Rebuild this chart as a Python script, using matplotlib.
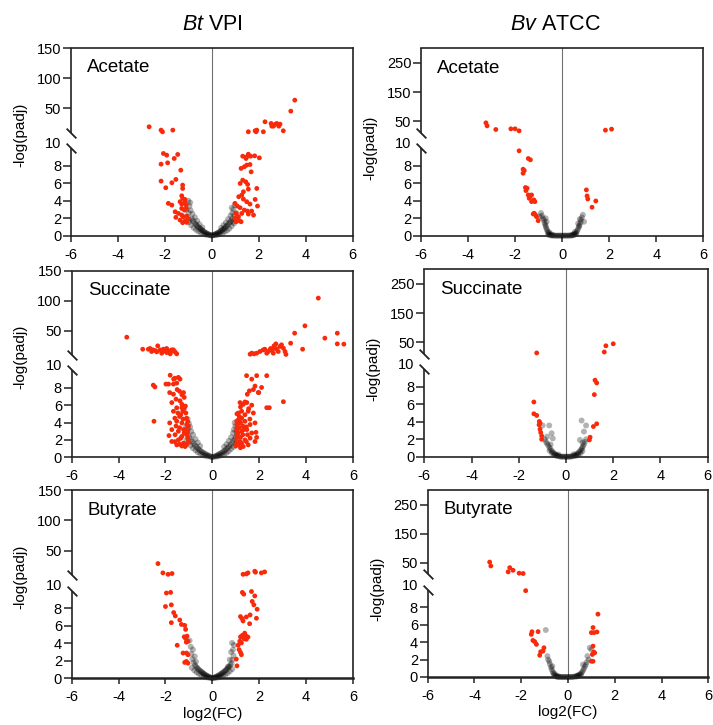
import numpy as np
import matplotlib
matplotlib.use('Agg')
import matplotlib.pyplot as plt

plt.rcParams['font.family'] = ['Liberation Sans', 'DejaVu Sans']
plt.rcParams['axes.unicode_minus'] = False
plt.rcParams['mathtext.fontset'] = 'custom'
plt.rcParams['mathtext.rm'] = 'Liberation Sans'
plt.rcParams['mathtext.it'] = 'Liberation Sans:italic'

# ---------------- data (log2FC, -log(padj)) ----------------
column_titles = [r'$\mathit{Bt}$ VPI', r'$\mathit{Bv}$ ATCC']
conditions = ['Acetate', 'Succinate', 'Butyrate']
x_ticks = [-6, -4, -2, 0, 2, 4, 6]
low_ticks = [0, 2, 4, 6, 8]
up_ticks_bt = [50, 100, 150]
up_ticks_bv = [50, 150, 250]

bt_acetate_sig = [
    (-2.67, 19.7), (-2.16, 14.2), (-2.10, 11.4), (-1.66, 14.2), (1.56, 11.5), (1.85, 13.1),
    (1.92, 14.2), (1.89, 11.5), (2.20, 11.5), (2.27, 28.0), (2.53, 25.2), (2.63, 20.8),
    (2.77, 25.2), (2.91, 24.1), (2.86, 20.8), (2.56, 20.8), (2.70, 23.6), (3.05, 13.1),
    (3.37, 45.6), (3.54, 63.8),
    (-2.06, 9.41), (-1.92, 9.22), (-1.45, 9.30), (-1.60, 8.84), (-1.88, 8.34), (-2.16, 8.19),
    (-1.32, 7.50), (-1.53, 6.44), (-1.70, 6.06), (-2.16, 6.25), (-1.96, 5.49), (-1.24, 5.79),
    (-1.24, 5.41), (-1.28, 4.57), (-1.24, 4.27), (-1.14, 4.15), (-1.85, 3.70), (-1.70, 3.50),
    (-1.35, 3.89), (-1.28, 3.62), (-1.14, 3.89), (-1.09, 3.50), (-1.28, 3.12), (-1.16, 2.93),
    (-1.09, 3.12), (-1.56, 2.74), (-1.42, 2.55), (-1.28, 2.36), (-1.21, 2.17), (-1.07, 2.25),
    (-1.53, 2.10), (-1.35, 1.79), (-1.14, 1.68), (-1.07, 1.52), (-1.02, 1.98), (-1.24, 1.49),
    (1.49, 9.03), (1.56, 9.33), (1.66, 9.10), (1.32, 9.10), (1.46, 8.84), (1.83, 9.14),
    (2.03, 8.91), (1.39, 7.89), (1.49, 8.08), (1.63, 8.15), (1.25, 7.70), (1.68, 7.31),
    (1.32, 6.36), (1.45, 6.17), (1.53, 5.87), (1.21, 5.98), (1.35, 5.03), (1.56, 5.33),
    (1.92, 5.41), (1.28, 4.65), (1.15, 4.46), (1.35, 4.19), (1.49, 3.89), (1.63, 3.62),
    (1.85, 4.15), (1.95, 3.39), (0.99, 3.70), (1.09, 3.39), (1.21, 3.20), (1.39, 2.93),
    (1.52, 2.82), (1.70, 2.82), (1.04, 2.55), (1.28, 2.55), (1.56, 2.48), (1.78, 2.36),
    (0.99, 1.98), (1.09, 1.79), (1.18, 1.71), (1.25, 1.60), (1.04, 1.60), (1.14, 2.17),
]
bt_acetate_ns = [
    (0.00, 0.02), (0.04, 0.05), (-0.04, 0.04), (0.08, 0.08), (-0.08, 0.09), (0.12, 0.12),
    (-0.12, 0.14), (0.16, 0.18), (-0.17, 0.20), (0.20, 0.22), (-0.21, 0.25), (0.24, 0.30),
    (-0.25, 0.32), (0.28, 0.35), (-0.30, 0.40), (0.33, 0.42), (-0.34, 0.48), (0.37, 0.50),
    (-0.38, 0.55), (0.41, 0.58), (-0.42, 0.64), (0.45, 0.66), (-0.46, 0.72), (0.50, 0.75),
    (-0.50, 0.82), (0.54, 0.85), (-0.55, 0.92), (0.58, 0.95), (-0.60, 1.05), (0.62, 1.08),
    (-0.64, 1.18), (0.67, 1.20), (-0.69, 1.32), (0.72, 1.35), (-0.74, 1.50), (0.77, 1.52),
    (-0.80, 1.70), (0.82, 1.70), (-0.85, 1.95), (0.87, 1.95),
    (0.15, 0.05), (-0.15, 0.06), (0.25, 0.10), (-0.26, 0.12), (0.35, 0.20), (-0.36, 0.22),
    (0.45, 0.30), (-0.47, 0.35), (0.55, 0.45), (-0.57, 0.50), (0.65, 0.60), (-0.67, 0.68),
    (0.75, 0.80), (-0.77, 0.90), (0.85, 1.10), (-0.88, 1.20), (0.95, 1.40), (-0.97, 1.55),
    (0.40, 0.90), (-0.40, 0.95), (0.50, 1.20), (-0.52, 1.30), (0.60, 1.50), (-0.62, 1.70),
    (0.70, 1.90), (-0.72, 2.10), (0.80, 2.30), (-0.82, 2.50), (0.88, 2.60), (-0.90, 2.90),
    (0.92, 3.00), (-0.95, 3.40), (0.96, 2.30), (-0.98, 2.60), (1.00, 1.90), (-1.02, 2.10),
    (0.85, 3.20), (-0.92, 3.80), (0.98, 3.50), (-1.00, 4.00), (1.05, 2.60), (-1.08, 3.00),
    (0.90, 1.60), (-0.95, 1.80),
]

bv_acetate_sig = [
    (-3.24, 44.3), (-3.19, 34.0), (-2.82, 21.4), (-2.18, 23.7), (-2.00, 23.7), (-1.83, 16.8),
    (1.84, 19.1), (2.10, 22.6),
    (-1.83, 9.73), (-1.44, 8.85), (-1.35, 8.70), (-1.66, 7.62), (-1.61, 7.47), (-1.66, 7.16),
    (-1.56, 5.52), (-1.49, 5.44), (-1.54, 5.17), (-1.44, 4.67), (-1.37, 4.48), (-1.30, 4.67),
    (-1.40, 4.29), (-1.30, 3.91), (-1.20, 4.10), (-1.16, 3.91), (-1.19, 2.57), (-1.13, 2.38),
    (-1.09, 2.18), (-1.02, 1.72), (-1.23, 2.49),
    (1.03, 5.25), (1.06, 4.56), (1.09, 4.21), (1.43, 3.98), (1.27, 3.26),
]
bv_acetate_ns = [
    (-0.50, 0.05), (-0.45, 0.02), (-0.40, 0.03), (-0.35, 0.01), (-0.30, 0.02), (-0.25, 0.00),
    (-0.20, 0.01), (-0.15, 0.00), (-0.10, 0.02), (-0.05, 0.00), (0.00, 0.01), (0.05, 0.00),
    (0.10, 0.02), (0.15, 0.01), (0.20, 0.00), (0.25, 0.02), (0.30, 0.01), (0.35, 0.03),
    (0.40, 0.02), (0.45, 0.05), (0.50, 0.08), (-0.55, 0.15), (-0.60, 0.30), (-0.62, 0.50),
    (-0.65, 0.70), (-0.68, 0.90), (-0.70, 1.10), (-0.72, 1.30), (0.55, 0.15), (0.60, 0.30),
    (0.63, 0.50), (0.66, 0.70), (0.70, 0.90), (0.72, 1.10), (0.74, 1.20), (-0.58, 0.10),
    (0.58, 0.20), (-0.50, 0.20), (0.50, 0.25), (-0.42, 0.12), (0.42, 0.10),
    (-0.75, 1.50), (-0.78, 1.80), (-0.82, 2.00), (-0.86, 2.30), (-0.90, 2.60), (-0.70, 2.00),
    (-0.66, 1.60), (-0.95, 2.20), (0.78, 1.50), (0.80, 1.80), (0.84, 2.10), (0.88, 2.40),
    (0.93, 1.60), (0.75, 1.90), (0.68, 1.40), (-0.55, 0.40), (0.55, 0.45),
]

bt_succinate_sig = [
    (-3.65, 39.4), (-2.97, 19.4), (-2.73, 19.4), (-2.66, 20.6), (-2.54, 18.3), (-2.33, 25.0),
    (-2.44, 17.2), (-2.23, 18.3), (-2.12, 15.6), (-2.02, 18.3), (-1.95, 13.9), (-1.88, 17.2),
    (-1.78, 15.0), (-1.66, 18.3), (-1.52, 11.7), (-2.59, 15.6), (-2.16, 12.8), (-1.80, 11.7),
    (-2.09, 19.4), (-1.73, 18.3), (-1.59, 15.0), (-2.37, 15.0), (-1.95, 20.6),
    (1.61, 11.1), (1.68, 12.8), (1.78, 11.7), (1.89, 12.8), (2.03, 15.6), (2.17, 18.3),
    (2.24, 19.4), (2.32, 12.8), (2.39, 15.6), (2.46, 18.3), (2.53, 18.3), (2.60, 12.8),
    (2.67, 21.1), (2.74, 19.4), (2.81, 15.6), (2.88, 23.9), (2.95, 26.7), (3.03, 21.1),
    (3.10, 15.6), (3.14, 10.8), (2.63, 25.0), (2.49, 20.6), (2.71, 28.3),
    (3.34, 29.4), (3.51, 46.1), (3.85, 19.4), (3.95, 58.3), (4.52, 104.4), (4.80, 37.8),
    (5.33, 46.1), (5.33, 28.3), (5.61, 27.8),
    (-2.52, 8.31), (-2.45, 8.10), (-2.49, 4.15), (-1.80, 9.45), (-1.65, 9.00), (-1.60, 9.10),
    (-1.98, 8.43), (-1.87, 8.43), (-1.66, 8.43), (-1.52, 8.54), (-1.38, 9.00), (-1.45, 9.20),
    (-1.82, 7.45), (-1.66, 7.26), (-1.23, 7.45), (-1.40, 7.60), (-1.30, 7.20), (-1.50, 7.80),
    (-1.73, 6.30), (-1.38, 6.50), (-1.30, 6.10), (-1.52, 5.70), (-1.20, 6.90), (-1.55, 6.70),
    (-1.66, 5.30), (-1.47, 5.10), (-1.26, 5.30), (-1.13, 5.10), (-1.40, 4.70), (-1.20, 5.60),
    (-1.82, 3.96), (-1.52, 4.15), (-1.30, 3.96), (-1.09, 3.77), (-1.02, 3.57), (-1.60, 4.50),
    (-1.25, 4.40), (-1.10, 4.50), (-1.35, 4.90), (-1.55, 3.60), (-1.40, 3.40), (-1.15, 3.20),
    (-1.73, 3.19), (-1.45, 3.00), (-1.23, 3.19), (-1.59, 2.60), (-1.30, 2.40), (-1.09, 2.60),
    (-1.73, 1.82), (-1.45, 2.00), (-1.23, 1.63), (-1.02, 1.82), (-1.52, 1.43), (-1.16, 1.24),
    (-1.85, 2.50), (-1.35, 2.20), (-1.05, 2.20), (-1.20, 2.80), (-1.05, 3.00), (-1.60, 1.80),
    (-1.40, 1.50), (-1.10, 1.45), (-1.30, 1.30), (-1.05, 4.10), (-1.15, 5.90), (-1.30, 5.70),
    (1.46, 9.40), (1.89, 9.40), (2.32, 9.40), (1.68, 9.00), (2.10, 8.04), (1.96, 7.46),
    (2.32, 5.71), (2.43, 5.71), (3.03, 6.40), (1.75, 7.80), (1.82, 8.20), (1.49, 7.26),
    (1.58, 7.65), (1.18, 6.30), (1.39, 6.37), (1.68, 6.00), (1.86, 2.87), (1.89, 2.29),
    (1.98, 7.45), (1.32, 6.10), (1.47, 6.30), (1.11, 5.10), (1.25, 5.30), (1.39, 4.90),
    (1.53, 5.30), (1.75, 5.10), (1.04, 4.15), (1.18, 3.96), (1.39, 4.15), (1.61, 3.77),
    (1.82, 3.96), (1.04, 3.19), (1.25, 3.00), (1.47, 3.19), (1.68, 2.80), (1.04, 2.21),
    (1.18, 1.82), (1.39, 2.00), (1.61, 2.21), (1.82, 1.82), (1.11, 1.43), (1.32, 1.24),
    (1.53, 1.43), (1.05, 5.00), (1.15, 4.70), (1.25, 4.50), (1.10, 4.30), (1.20, 4.00),
    (1.30, 3.60), (1.45, 3.50), (1.05, 3.70), (1.15, 3.40), (1.35, 3.20), (1.10, 2.80),
    (1.30, 2.60), (1.50, 2.60), (1.05, 2.60), (1.20, 2.30), (1.45, 1.80), (1.05, 1.70),
    (1.25, 1.60), (1.00, 1.30), (1.20, 5.80), (1.55, 5.60), (1.60, 4.40), (1.20, 1.10),
]
bt_succinate_ns = [
    (0.00, 0.02), (0.05, 0.05), (-0.05, 0.05), (0.10, 0.10), (-0.10, 0.12), (0.15, 0.15),
    (-0.15, 0.18), (0.20, 0.22), (-0.20, 0.25), (0.25, 0.30), (-0.26, 0.33), (0.30, 0.38),
    (-0.32, 0.42), (0.36, 0.47), (-0.38, 0.52), (0.42, 0.57), (-0.44, 0.62), (0.48, 0.68),
    (-0.50, 0.74), (0.54, 0.80), (-0.56, 0.88), (0.60, 0.94), (-0.62, 1.02), (0.66, 1.10),
    (-0.68, 1.20), (0.72, 1.27), (-0.74, 1.38), (0.78, 1.45), (-0.80, 1.58), (0.84, 1.65),
    (-0.86, 1.80), (0.90, 1.90), (-0.92, 2.05), (0.95, 2.10), (-0.98, 2.30), (1.00, 2.35),
    (-1.04, 2.60),
    (0.20, 0.08), (-0.20, 0.10), (0.30, 0.15), (-0.32, 0.18), (0.40, 0.25), (-0.42, 0.30),
    (0.50, 0.38), (-0.52, 0.42), (0.60, 0.50), (-0.62, 0.58), (0.70, 0.70), (-0.72, 0.80),
    (0.80, 0.95), (-0.83, 1.05), (0.90, 1.20), (-0.93, 1.35), (1.00, 1.50), (-1.03, 1.70),
    (1.05, 1.80), (-1.10, 2.00),
    (0.50, 1.20), (-0.52, 1.30), (0.60, 1.50), (-0.62, 1.70), (0.70, 1.90), (-0.72, 2.10),
    (0.80, 2.30), (-0.82, 2.60), (0.88, 2.80), (-0.90, 3.00), (0.92, 3.20), (-0.95, 3.50),
    (0.98, 3.60), (-1.00, 3.90), (1.02, 3.00), (-1.05, 3.20), (0.95, 4.00), (-1.05, 4.40),
    (1.05, 2.60), (-1.10, 2.80), (-1.12, 3.60), (1.08, 3.40),
]

bv_succinate_sig = [
    (-1.24, 13.0), (1.62, 16.3), (1.69, 37.6), (2.00, 44.4),
    (-1.36, 6.27), (-1.36, 4.92), (-1.24, 4.73), (-1.13, 4.04), (-1.10, 3.85), (-1.14, 3.65),
    (-1.10, 3.15), (-1.07, 2.77), (-1.03, 2.38), (-1.03, 2.00),
    (1.23, 8.77), (1.30, 8.46), (1.20, 7.12), (1.16, 3.46), (1.30, 3.77), (1.02, 2.23),
    (0.99, 1.92),
]
bv_succinate_ns = [
    (-0.25, 0.02), (-0.20, 0.00), (-0.15, 0.01), (-0.10, 0.00), (-0.05, 0.00), (0.00, 0.01),
    (0.05, 0.00), (0.10, 0.00), (0.15, 0.01), (0.20, 0.02), (0.25, 0.03), (-0.30, 0.06),
    (0.30, 0.07), (-0.35, 0.12), (0.35, 0.12), (-0.40, 0.18), (0.40, 0.20), (-0.45, 0.28),
    (0.45, 0.30), (-0.50, 0.38), (0.50, 0.40), (-0.55, 0.50), (0.55, 0.52), (-0.60, 0.65),
    (0.60, 0.68), (-0.65, 0.85), (0.65, 0.85), (-0.70, 1.05), (0.68, 1.00), (-0.75, 1.30),
    (0.72, 1.20), (-0.80, 1.50), (0.76, 1.40), (-0.40, 0.08), (0.42, 0.10), (-0.50, 0.20),
    (0.52, 0.22), (-0.60, 0.40), (0.62, 0.40), (-0.70, 0.70), (0.70, 0.65), (-0.32, 0.25),
    (0.32, 0.28),
    (-0.85, 1.70), (-0.90, 2.00), (-0.99, 3.58), (-0.71, 3.58), (-0.61, 2.69), (-0.56, 2.10),
    (-0.80, 2.30), (0.66, 4.15), (0.85, 3.58), (0.76, 2.88), (0.59, 1.92), (0.80, 1.70),
    (0.85, 2.00), (0.70, 1.60), (-0.65, 1.40),
]

bt_butyrate_sig = [
    (-2.32, 28.7), (-2.11, 13.4), (-1.89, 11.0), (-1.72, 12.3), (1.31, 11.0), (1.45, 11.7),
    (1.52, 13.4), (1.81, 16.1), (1.84, 14.5), (2.09, 13.4), (2.23, 15.0),
    (-1.96, 9.73), (-1.78, 9.80), (-2.00, 8.19), (-1.75, 8.38), (-1.75, 6.35), (-1.65, 7.50),
    (-1.58, 7.12), (-1.39, 6.65), (-1.32, 6.15), (-1.18, 6.04), (-1.14, 5.58), (-1.20, 4.73),
    (-1.14, 4.54), (-1.08, 4.81), (-1.04, 4.23), (-1.11, 4.12), (-1.50, 3.77), (-1.25, 2.88),
    (-1.10, 2.88), (-1.04, 2.69), (-1.18, 1.81), (-1.04, 1.73), (-1.11, 1.92),
    (1.28, 9.80), (1.34, 9.60), (1.67, 9.90), (1.81, 9.40), (1.70, 8.77), (1.77, 8.38),
    (1.91, 7.88), (1.88, 6.85), (1.61, 7.23), (1.59, 6.23), (1.45, 7.00), (1.20, 7.04),
    (1.27, 6.81), (1.31, 6.54), (1.20, 4.73), (1.28, 4.90), (1.38, 5.15), (1.45, 4.80),
    (1.52, 4.70), (1.35, 4.50), (1.45, 4.45), (1.17, 4.23), (1.24, 4.04), (1.10, 3.77),
    (1.14, 3.27), (1.20, 2.96), (1.02, 2.19), (1.05, 1.42), (1.24, 2.69),
]
bt_butyrate_ns = [
    (0.00, 0.02), (0.04, 0.05), (-0.04, 0.04), (0.08, 0.08), (-0.08, 0.09), (0.12, 0.12),
    (-0.12, 0.14), (0.16, 0.17), (-0.17, 0.20), (0.20, 0.22), (-0.21, 0.25), (0.24, 0.28),
    (-0.25, 0.32), (0.28, 0.34), (-0.30, 0.40), (0.33, 0.42), (-0.34, 0.48), (0.37, 0.50),
    (-0.38, 0.55), (0.41, 0.58), (-0.42, 0.64), (0.45, 0.66), (-0.46, 0.72), (0.50, 0.75),
    (-0.50, 0.82), (0.54, 0.85), (-0.55, 0.92), (0.58, 0.95), (-0.60, 1.05), (0.62, 1.08),
    (-0.64, 1.18), (0.67, 1.20), (-0.69, 1.32), (0.72, 1.35), (-0.74, 1.50), (0.77, 1.52),
    (0.15, 0.05), (-0.15, 0.06), (0.25, 0.10), (-0.26, 0.12), (0.35, 0.18), (-0.36, 0.22),
    (0.45, 0.30), (-0.47, 0.35), (0.55, 0.42), (-0.57, 0.50), (0.65, 0.58), (-0.67, 0.68),
    (0.75, 0.80), (-0.77, 0.90), (0.85, 1.05), (-0.88, 1.20),
    (-0.80, 1.80), (0.82, 1.70), (-0.85, 2.20), (0.85, 2.10), (-0.75, 2.50), (0.74, 2.12),
    (-0.83, 3.27), (0.88, 3.27), (-0.97, 4.30), (0.84, 4.04), (-0.90, 2.80), (0.90, 2.60),
    (-0.70, 1.90), (0.67, 1.35), (0.80, 3.00), (-0.92, 3.60), (0.92, 3.80),
]

bv_butyrate_sig = [
    (-3.35, 52.2), (-3.30, 38.8), (-2.56, 18.5), (-2.49, 33.0), (-2.35, 24.0), (-2.09, 14.0),
    (-1.92, 12.9), (-1.81, 9.92),
    (-1.54, 5.20), (-1.57, 4.90), (-1.50, 4.20), (-1.42, 4.05), (-1.35, 3.75), (-1.28, 5.21),
    (-1.03, 3.36), (-1.07, 2.97), (-1.17, 2.90), (-1.21, 2.50),
    (1.28, 7.22), (1.07, 5.68), (1.11, 5.10), (1.00, 5.10), (1.24, 5.17), (1.07, 3.55),
    (1.10, 2.86), (1.14, 2.78), (1.04, 2.59), (1.00, 1.81), (1.07, 1.81),
]
bv_butyrate_ns = [
    (-0.50, 0.05), (-0.45, 0.02), (-0.40, 0.01), (-0.35, 0.00), (-0.30, 0.01), (-0.25, 0.00),
    (-0.20, 0.00), (-0.15, 0.01), (-0.10, 0.00), (-0.05, 0.00), (0.00, 0.01), (0.05, 0.00),
    (0.10, 0.01), (0.15, 0.00), (0.20, 0.02), (0.25, 0.03), (0.30, 0.06), (0.35, 0.10),
    (0.40, 0.15), (0.45, 0.22), (0.50, 0.30), (-0.55, 0.12), (-0.60, 0.25), (-0.63, 0.45),
    (-0.66, 0.65), (-0.70, 0.90), (-0.73, 1.15), (0.55, 0.40), (0.60, 0.55), (0.64, 0.75),
    (0.68, 0.95), (0.72, 1.20), (0.76, 1.40), (-0.50, 0.20), (0.45, 0.12), (-0.58, 0.40),
    (0.55, 0.25), (-0.42, 0.10), (0.38, 0.05),
    (-0.78, 1.50), (-0.85, 2.00), (-0.80, 1.80), (-0.67, 1.24), (-0.95, 5.40), (-0.88, 2.40),
    (0.93, 3.36), (1.00, 3.16), (0.83, 2.40), (0.64, 1.43), (0.80, 1.70), (0.88, 2.00),
]

sig_sets = [[bt_acetate_sig, bv_acetate_sig],
            [bt_succinate_sig, bv_succinate_sig],
            [bt_butyrate_sig, bv_butyrate_sig]]
ns_sets = [[bt_acetate_ns, bv_acetate_ns],
           [bt_succinate_ns, bv_succinate_ns],
           [bt_butyrate_ns, bv_butyrate_ns]]
y_tops = [150, 300]
up_ticks = [up_ticks_bt, up_ticks_bv]

# ---------------- layout (pixels: left, right, top, bottom) ----------------
W, H = 713, 725
boxes = [[(71, 352.5, 48, 235.7), (421, 703.3, 48.3, 235.7)],
         [(71.7, 353, 270.7, 457.3), (424.3, 707.7, 269.3, 456.7)],
         [(71.7, 353, 490, 678.3), (427.7, 708.3, 490, 677)]]

RED = '#F82A0A'
SPC = '#222222'
LOW_PX = 8.75      # pixel height per unit below the break
UP0 = 103.2        # pixel height where the upper segment starts
TOTAL = 188.0      # total pixel height of an axis


def make_scale(top):
    b = (TOTAL - UP0) / (top - 10.0)

    def fwd(v):
        v = np.asarray(v, dtype=float)
        return np.where(v <= 10, v * LOW_PX, UP0 + (v - 10) * b)

    def inv(t):
        t = np.asarray(t, dtype=float)
        return np.where(t <= 10 * LOW_PX, t / LOW_PX,
                        np.where(t < UP0, 10.0, 10 + (t - UP0) / b))
    return fwd, inv


fig = plt.figure(figsize=(W / 100, H / 100), dpi=100)

tick_fs = 10.5
slash = [(-1, 1), (1, -1)]

for r in range(3):
    for c in range(2):
        l, rr, t, btm = boxes[r][c]
        ax = fig.add_axes([l / W, 1 - btm / H, (rr - l) / W, (btm - t) / H])
        top = y_tops[c]
        ax.set_yscale('function', functions=make_scale(top))
        ax.set_xlim(-6, 6)
        ax.set_ylim(0, top)

        ns = np.array(ns_sets[r][c])
        sig = np.array(sig_sets[r][c])
        ax.axvline(0, color='#707070', lw=0.8, zorder=1)
        ax.scatter(ns[:, 0], ns[:, 1], s=18, color='black', alpha=0.3,
                   edgecolors='none', zorder=2, clip_on=False)
        ax.scatter(sig[:, 0], sig[:, 1], s=12, color=RED, edgecolors='none',
                   zorder=3, clip_on=False)

        # spines
        for side in ['top', 'right', 'bottom']:
            ax.spines[side].set_color(SPC)
            ax.spines[side].set_linewidth(1.2)
        if r == 2:
            ax.spines['bottom'].set_linewidth(1.8)
        ax.spines['left'].set_visible(False)
        yt = ax.get_yaxis_transform()
        ax.plot([0, 0], [0, 10], transform=yt, color=SPC, lw=1.2,
                clip_on=False, solid_capstyle='butt', zorder=4)
        ax.plot([0, 0], [10.0001, top], transform=yt, color=SPC, lw=1.2,
                clip_on=False, solid_capstyle='butt', zorder=4)
        ax.plot([0, 0], [10, 10.0001], transform=yt, ls='none', marker=slash,
                ms=7, mew=1.3, mec=SPC, mfc='none', clip_on=False, zorder=4)

        # ticks
        yt_vals = low_ticks + up_ticks[c]
        ax.set_yticks(yt_vals)
        ax.set_yticklabels([str(v) for v in yt_vals])
        ax.set_xticks(x_ticks)
        ax.set_xticklabels([str(v) for v in x_ticks])
        ax.yaxis.set_minor_locator(matplotlib.ticker.NullLocator())
        ax.tick_params(axis='y', direction='out', length=5.5, width=1.1,
                       pad=1.5, labelsize=tick_fs, color=SPC)
        ax.tick_params(axis='x', direction='out', length=4.5, width=1.1,
                       pad=4, labelsize=tick_fs, color=SPC)
        ax.annotate('10', xy=(0, 91.7 / TOTAL), xycoords='axes fraction',
                    xytext=(-7.0, 0), textcoords='offset points',
                    ha='right', va='center', fontsize=tick_fs)

        # labels
        ax.text(0.057, 1 - 20 / 188, conditions[r], transform=ax.transAxes,
                ha='left', va='center', fontsize=13.5)
        ylab_x = -0.181 if c == 0 else -0.18
        ylab_y = 0.54 if c == 0 else 0.47
        ax.text(ylab_x, ylab_y, '-log(padj)', transform=ax.transAxes,
                rotation=90, ha='center', va='center', fontsize=11)
        if r == 2:
            ax.text(0.5, -0.188, 'log2(FC)', transform=ax.transAxes,
                    ha='center', va='center', fontsize=11)

fig.text(212.5 / W, 1 - 24 / H, column_titles[0], ha='center', va='center', fontsize=15.5)
fig.text(555 / W, 1 - 25 / H, column_titles[1], ha='center', va='center', fontsize=15.5)

fig.savefig('out.png', dpi=100)
